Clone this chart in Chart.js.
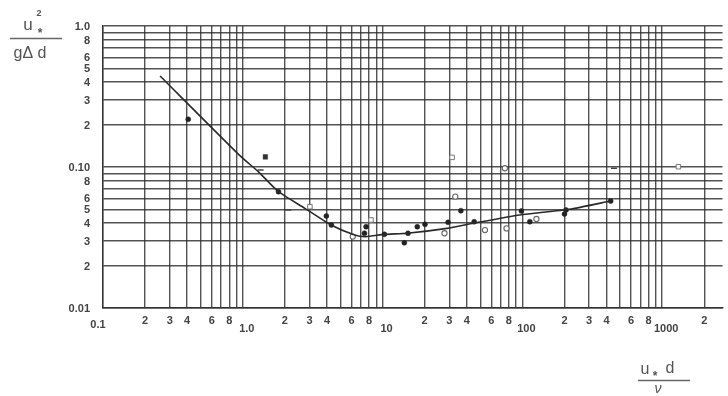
<!DOCTYPE html>
<html>
<head>
<meta charset="utf-8">
<script src="https://cdn.jsdelivr.net/npm/chart.js@4.4.0/dist/chart.umd.min.js"></script>
<style>
  html, body { margin: 0; padding: 0; background: #fff; }
  #wrap { width: 728px; height: 396px; }
</style>
</head>
<body>
<div id="wrap"><canvas id="chart" width="728" height="396"></canvas></div>
<script>
// Shields-type curve
const curveX = [0.256, 0.94, 1.3, 1.8, 2.78, 4.28, 6.3, 7.57, 10.3, 15, 28.9, 44.7, 95.7, 216, 428];
const curveY = [0.442, 0.122, 0.092, 0.0668, 0.0509, 0.0388, 0.033, 0.0321, 0.0333, 0.0339, 0.0367, 0.0399, 0.0457, 0.0501, 0.0574];

// filled dots
const dotX = [0.407, 1.8, 3.96, 4.3, 7.42, 7.62, 10.3, 14.3, 15.2, 17.7, 20.1, 29.4, 36.3, 45.2, 98.4, 113, 200, 205, 428];
const dotY = [0.218, 0.0668, 0.0449, 0.0388, 0.0339, 0.0377, 0.0333, 0.029, 0.0339, 0.0377, 0.0392, 0.0405, 0.049, 0.0409, 0.0488, 0.0409, 0.0464, 0.0496, 0.0574];

// filled square
const boxX = [1.45];
const boxY = [0.118];

// open squares
const sqX = [3.02, 8.26, 31.4, 1306];
const sqY = [0.0523, 0.0421, 0.117, 0.1005];

// open circles
const ringX = [6.12, 27.7, 33.1, 54, 74.9, 77, 126];
const ringY = [0.0321, 0.0339, 0.0616, 0.0357, 0.098, 0.0367, 0.0428];

// small dashes
const dashX = [1.34, 2.12, 452];
const dashY = [0.0953, 0.0496, 0.098];

const xTickValues = [0.1, 0.2, 0.3, 0.4, 0.6, 0.8, 1, 2, 3, 4, 6, 8, 10, 20, 30, 40, 60, 80, 100, 200, 300, 400, 600, 800, 1000, 2000];
const xTickLabels = ["0.1", "2", "3", "4", "6", "8", "1.0", "2", "3", "4", "6", "8", "10", "2", "3", "4", "6", "8", "100", "2", "3", "4", "6", "8", "1000", "2"];
const yTickValues = [1, 0.8, 0.6, 0.5, 0.4, 0.3, 0.2, 0.1, 0.08, 0.06, 0.05, 0.04, 0.03, 0.02, 0.01];
const yTickLabels = ["1.0", "8", "6", "5", "4", "3", "2", "0.10", "8", "6", "5", "4", "3", "2", "0.01"];

const toPoints = (xs, ys) => xs.map((x, i) => ({ x: x, y: ys[i] }));

// log paper grid: 1..9 in every decade
function logGrid(min, max) {
  const out = [];
  for (let d = Math.floor(Math.log10(min)); d <= Math.ceil(Math.log10(max)); d++) {
    for (let m = 1; m <= 9; m++) {
      const v = +(m * Math.pow(10, d)).toPrecision(3);
      if (v >= min - 1e-9 && v <= max + 1e-9) out.push({ value: v });
    }
  }
  return out;
}

const ink = '#333';
const gridColor = 'rgba(40,40,40,0.8)';

const paperLabels = {
  id: 'paperLabels',
  afterDraw(chart) {
    const ctx = chart.ctx;
    const xs = chart.scales.x, ys = chart.scales.y;
    const b = chart.chartArea.bottom;
    ctx.save();
    ctx.fillStyle = '#444';
    ctx.font = 'bold 11px "Liberation Sans", Arial, sans-serif';
    ctx.textBaseline = 'middle';
    ctx.textAlign = 'center';
    xTickValues.forEach((v, i) => {
      const lab = xTickLabels[i];
      const px = xs.getPixelForValue(v);
      if (v === 0.1) ctx.fillText(lab, px - 5, b + 17);
      else if (lab.length > 1) ctx.fillText(lab, px + 4, b + 21);
      else ctx.fillText(lab, px, b + 13);
    });
    ctx.textAlign = 'right';
    yTickValues.forEach((v, i) => {
      ctx.fillText(yTickLabels[i], 90, ys.getPixelForValue(v) + 1);
    });

    // y axis title  u*^2 / (g delta d)
    ctx.fillStyle = '#555';
    ctx.strokeStyle = '#666';
    ctx.lineWidth = 1.3;
    ctx.textAlign = 'center';
    ctx.font = '17px "Liberation Sans", Arial, sans-serif';
    ctx.fillText('u', 28, 25);
    ctx.font = 'bold 9px "Liberation Sans", Arial, sans-serif';
    ctx.fillText('2', 39, 14);
    ctx.font = 'bold 12px "Liberation Sans", Arial, sans-serif';
    ctx.fillText('*', 40, 34);
    ctx.beginPath(); ctx.moveTo(10, 38.5); ctx.lineTo(62, 38.5); ctx.stroke();
    ctx.font = '16px "Liberation Sans", Arial, sans-serif';
    ctx.fillText('gΔ d', 30, 54);

    // x axis title  u* d / nu
    ctx.font = '16px "Liberation Sans", Arial, sans-serif';
    ctx.fillText('u', 645, 370);
    ctx.fillText('d', 670, 369);
    ctx.font = 'bold 12px "Liberation Sans", Arial, sans-serif';
    ctx.fillText('*', 655, 377);
    ctx.beginPath(); ctx.moveTo(638, 380.5); ctx.lineTo(690, 380.5); ctx.stroke();
    ctx.font = 'italic 14px "Liberation Sans", Arial, sans-serif';
    ctx.fillText('ν', 658, 389);
    ctx.restore();
  }
};

new Chart(document.getElementById('chart').getContext('2d'), {
  type: 'scatter',
  data: {
    datasets: [
      {
        data: toPoints(curveX, curveY),
        showLine: true,
        borderColor: '#2a2a2a',
        borderWidth: 1.6,
        tension: 0.2,
        pointRadius: 0
      },
      {
        data: toPoints(dotX, dotY),
        pointStyle: 'circle',
        pointRadius: 2.5,
        backgroundColor: '#222',
        borderColor: '#222',
        borderWidth: 0.5
      },
      {
        data: toPoints(boxX, boxY),
        pointStyle: 'rect',
        pointRadius: 3.2,
        backgroundColor: '#333',
        borderColor: '#333',
        borderWidth: 0.5
      },
      {
        data: toPoints(sqX, sqY),
        pointStyle: 'rect',
        pointRadius: 3.2,
        backgroundColor: '#fff',
        borderColor: '#777',
        borderWidth: 1
      },
      {
        data: toPoints(ringX, ringY),
        pointStyle: 'circle',
        pointRadius: 2.6,
        backgroundColor: '#fff',
        borderColor: '#666',
        borderWidth: 1.1
      },
      {
        data: toPoints(dashX, dashY),
        pointStyle: 'line',
        pointRadius: 3,
        borderColor: '#444',
        borderWidth: 1.5
      }
    ]
  },
  options: {
    responsive: false,
    animation: false,
    devicePixelRatio: 1,
    layout: { padding: { left: 103, top: 26, right: 0, bottom: 88 } },
    plugins: { legend: { display: false }, tooltip: { enabled: false } },
    scales: {
      x: {
        type: 'logarithmic',
        min: 0.1,
        max: 2700,
        afterBuildTicks: (s) => { s.ticks = logGrid(0.1, 2700); },
        ticks: { display: false },
        grid: { color: gridColor, lineWidth: 1.4, drawTicks: false },
        border: { color: ink, width: 1.4 }
      },
      y: {
        type: 'logarithmic',
        min: 0.01,
        max: 1,
        afterBuildTicks: (s) => { s.ticks = logGrid(0.01, 1); },
        ticks: { display: false },
        grid: { color: gridColor, lineWidth: 1.4, drawTicks: false },
        border: { color: ink, width: 1.4 }
      }
    }
  },
  plugins: [paperLabels]
});
</script>
</body>
</html>
